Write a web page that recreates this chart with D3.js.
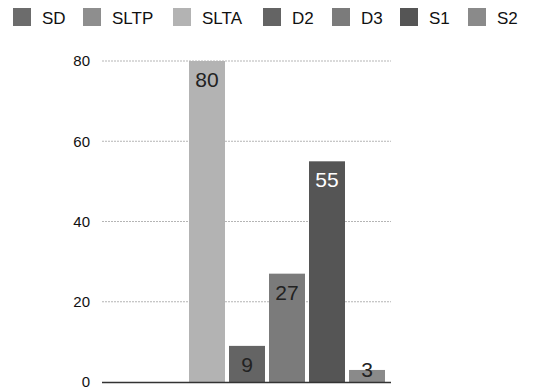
<!DOCTYPE html>
<html><head><meta charset="utf-8">
<script src="https://cdn.jsdelivr.net/npm/d3@7"></script>
<style>body{margin:0;background:#fff}svg{display:block;font-family:"Liberation Sans",Arial,sans-serif}</style>
</head><body><svg id="c" width="533" height="391"></svg>
<script>
const categories = ["SD","SLTP","SLTA","D2","D3","S1","S2"];
const values = [0,0,80,9,27,55,3];
const colors = ["#6c6c6c","#8e8e8e","#b3b3b3","#646464","#7b7b7b","#555555","#8a8a8a"];
const labelColors = ["#222","#222","#222","#222","#222","#fff","#222"];
const yTicks = [0,20,40,60,80];

const svg = d3.select("#c");
const x = d3.scaleBand().domain(categories).range([105,389]).paddingInner(0.1).paddingOuter(0.1);
const y = d3.scaleLinear().domain([0,80]).range([382,61]);

// gridlines
svg.append("g").selectAll("line").data(yTicks.filter(d=>d>0)).join("line")
  .attr("x1",102).attr("x2",391).attr("y1",d=>y(d)).attr("y2",d=>y(d))
  .attr("stroke","#b5b5b5").attr("stroke-width",1).attr("stroke-dasharray","2,1");

// y axis labels
const yAxis = d3.axisLeft(y).tickValues(yTicks).tickSize(0).tickPadding(0);
const ga = svg.append("g").attr("transform","translate(90,0)").call(yAxis);
ga.select(".domain").remove();
ga.selectAll("text").attr("font-size",15).attr("fill","#111").attr("font-family","Liberation Sans, Arial, sans-serif");

// bars
svg.append("g").selectAll("rect").data(categories).join("rect")
  .attr("x",d=>x(d)).attr("width",x.bandwidth())
  .attr("y",(d,i)=>y(values[i])).attr("height",(d,i)=>y(0)-y(values[i]))
  .attr("fill",(d,i)=>colors[i]);

// value labels
svg.append("g").selectAll("text").data(categories.filter((d,i)=>values[i]>0)).join("text")
  .attr("x",d=>x(d)+x.bandwidth()/2)
  .attr("y",d=>{const v=values[categories.indexOf(d)];return Math.min(y(v)+26,y(0)-5);})
  .attr("text-anchor","middle").attr("font-size",21)
  .attr("fill",d=>labelColors[categories.indexOf(d)])
  .text(d=>values[categories.indexOf(d)]);

// x axis line
svg.append("line").attr("x1",102).attr("x2",391).attr("y1",382.5).attr("y2",382.5)
  .attr("stroke","#333").attr("stroke-width",1.5);

// legend
const legX = [13,83,173,263,332,400,468];
const lg = svg.append("g").selectAll("g").data(categories).join("g")
  .attr("transform",(d,i)=>`translate(${legX[i]},8)`);
lg.append("rect").attr("width",18).attr("height",18).attr("fill",(d,i)=>colors[i]);
lg.append("text").attr("x",29).attr("y",15.5).attr("font-size",17).attr("fill","#111").text(d=>d);
</script></body></html>
